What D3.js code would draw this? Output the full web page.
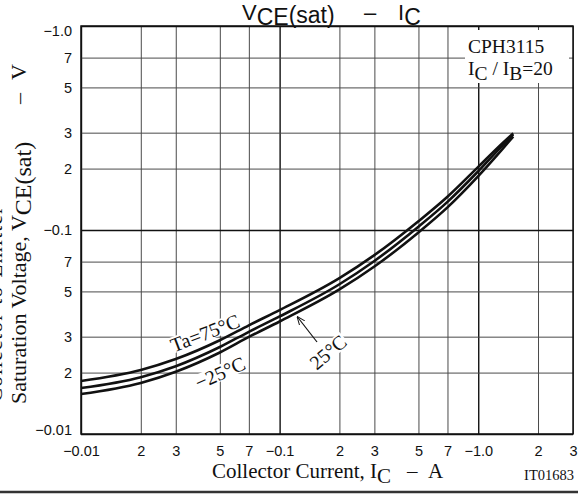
<!DOCTYPE html>
<html>
<head>
<meta charset="utf-8">
<script src="https://cdn.jsdelivr.net/npm/d3@7"></script>
<style>
  body { margin: 0; background: #fff; }
  svg { display: block; }
</style>
</head>
<body>
<script>
// VCE(sat) - IC chart, CPH3115

const currents = [0.01, 0.02, 0.03, 0.05, 0.07, 0.1, 0.2, 0.3, 0.5, 0.7, 1.0, 1.3, 1.5];
const vTa75 = [0.0182, 0.0206, 0.0233, 0.0288, 0.0341, 0.0405, 0.0581, 0.0753, 0.1104, 0.1456, 0.2040, 0.2620, 0.2980];
const vTa25 = [0.0168, 0.0190, 0.0215, 0.0267, 0.0317, 0.0377, 0.0542, 0.0705, 0.1038, 0.1374, 0.1941, 0.2547, 0.2938];
const vTaM25 = [0.0157, 0.0178, 0.0202, 0.0251, 0.0299, 0.0356, 0.0511, 0.0662, 0.0973, 0.1291, 0.1837, 0.2443, 0.2871];

const xTicks = [0.01, 0.02, 0.03, 0.05, 0.07, 0.1, 0.2, 0.3, 0.5, 0.7, 1, 2, 3];
const xTickLabels = ["\u22120.01", "2", "3", "5", "7", "\u22120.1", "2", "3", "5", "7", "\u22121.0", "2", "3"];
const yTicks = [1, 0.7, 0.5, 0.3, 0.2, 0.1, 0.07, 0.05, 0.03, 0.02, 0.01];
const yTickLabels = ["\u22121.0", "7", "5", "3", "2", "\u22120.1", "7", "5", "3", "2", "\u22120.01"];
const decades = [0.01, 0.1, 1];

const W = 578, H = 495;
const pL = 81, pR = 573, pT = 26, pB = 434;

const svg = d3.select("body").append("svg")
  .attr("width", W)
  .attr("height", H);

const x = d3.scaleLog().domain([0.01, 3]).range([pL, pR]);
const y = d3.scaleLog().domain([0.01, 1]).range([pB, pT]);

// Grid lines via axes
const gx = svg.append("g")
  .attr("transform", `translate(0,${pB})`)
  .call(d3.axisBottom(x).tickValues(xTicks).tickSize(-(pB - pT)).tickPadding(8)
    .tickFormat((d, i) => xTickLabels[i]));

const gy = svg.append("g")
  .attr("transform", `translate(${pL},0)`)
  .call(d3.axisLeft(y).tickValues(yTicks).tickSize(-(pR - pL)).tickPadding(9)
    .tickFormat((d, i) => yTickLabels[i]));

[gx, gy].forEach(g => {
  g.select(".domain").remove();
  g.selectAll(".tick line")
    .attr("stroke", d => decades.includes(d) ? "#111" : "#4a4a4a")
    .attr("stroke-width", d => decades.includes(d) ? 1.4 : 1);
  g.selectAll(".tick text")
    .attr("fill", "#111")
    .style("font-family", "'Liberation Sans', Arial, sans-serif")
    .style("font-size", "14.5px");
});
gx.selectAll(".tick text").attr("dy", "0.95em");
gy.selectAll(".tick text")
  .attr("dy", (d, i) => i === 0 ? "0.62em" : i === yTicks.length - 1 ? "0.05em" : "0.34em");

// Plot frame
svg.append("rect")
  .attr("x", pL).attr("y", pT)
  .attr("width", pR - pL).attr("height", pB - pT)
  .attr("fill", "none")
  .attr("stroke", "#111")
  .attr("stroke-width", 1.5);

// Legend box (knocks out grid)
svg.append("rect")
  .attr("x", 465).attr("y", 30).attr("width", 104).attr("height", 53)
  .attr("fill", "#fff");

const serif = "'Liberation Serif', 'Times New Roman', serif";
const sans = "'Liberation Sans', Arial, sans-serif";

svg.append("text")
  .attr("x", 468).attr("y", 53)
  .style("font-family", serif).style("font-size", "19.5px")
  .attr("fill", "#111")
  .text("CPH3115");

const leg2 = svg.append("text")
  .attr("x", 468).attr("y", 75)
  .style("font-family", serif).style("font-size", "19.5px")
  .attr("fill", "#111");
leg2.append("tspan").text("I");
leg2.append("tspan").attr("dy", 5).text("C");
leg2.append("tspan").attr("dy", -5).text(" / I");
leg2.append("tspan").attr("dy", 5).text("B");
leg2.append("tspan").attr("dy", -5).text("=20");

// Curve labels with white backgrounds
const labels = [
  { t: "Ta=75\u00B0C", x: 205, y: 333, a: -21 },
  { t: "\u221225\u00B0C", x: 220, y: 373, a: -24 },
  { t: "25\u00B0C", x: 328, y: 352, a: -40 }
];
labels.forEach(l => {
  const g = svg.append("g").attr("transform", `translate(${l.x},${l.y}) rotate(${l.a})`);
  const txt = g.append("text")
    .attr("text-anchor", "middle")
    .attr("dy", "0.35em")
    .style("font-family", serif).style("font-size", "20px")
    .attr("fill", "#111")
    .text(l.t);
  const bb = txt.node().getBBox();
  g.insert("rect", "text")
    .attr("x", bb.x - 1).attr("y", bb.y + 3)
    .attr("width", bb.width + 2).attr("height", bb.height - 6)
    .attr("fill", "#fff");
});

// Arrow to 25°C curve
svg.append("defs").append("marker")
  .attr("id", "arr")
  .attr("viewBox", "0 0 10 10")
  .attr("refX", 9).attr("refY", 5)
  .attr("markerWidth", 7).attr("markerHeight", 7)
  .attr("orient", "auto")
  .append("path")
  .attr("d", "M0,1 L10,5 L0,9")
  .attr("fill", "none")
  .attr("stroke", "#111")
  .attr("stroke-width", 1.2);

svg.append("line")
  .attr("x1", 317).attr("y1", 342)
  .attr("x2", 297.5).attr("y2", 317)
  .attr("stroke", "#111")
  .attr("stroke-width", 1.2)
  .attr("marker-end", "url(#arr)");

// Curves
const line = d3.line()
  .x((d, i) => x(currents[i]))
  .y(d => y(d))
  .curve(d3.curveMonotoneX);

[vTa75, vTa25, vTaM25].forEach(series => {
  svg.append("path")
    .datum(series)
    .attr("d", line)
    .attr("fill", "none")
    .attr("stroke", "#111")
    .attr("stroke-width", 2.6);
});

// Title
const title = svg.append("text")
  .attr("y", 20)
  .style("font-family", sans)
  .style("font-size", "22px")
  .attr("fill", "#111");
title.append("tspan").attr("x", 242).text("V");
title.append("tspan").attr("dy", 5).style("font-size", "23px").text("CE");
title.append("tspan").attr("dy", -2).style("font-size", "23px").text("(sat)");
title.append("tspan").attr("x", 364).attr("dy", -3).text("\u2013");
title.append("tspan").attr("x", 398).text("I");
title.append("tspan").attr("dy", 5).style("font-size", "23px").text("C");

// X axis title
const xt = svg.append("text")
  .attr("y", 478)
  .style("font-family", serif).style("font-size", "21px")
  .attr("fill", "#111");
xt.append("tspan").attr("x", 212).text("Collector Current, I");
xt.append("tspan").attr("dy", 5).text("C");
xt.append("tspan").attr("x", 407).attr("dy", -5).text("\u2013");
xt.append("tspan").attr("x", 428).text("A");

svg.append("text")
  .attr("x", 574).attr("y", 480)
  .attr("text-anchor", "end")
  .style("font-family", serif).style("font-size", "14.5px")
  .attr("fill", "#111")
  .text("IT01683");

// Y axis title (two lines, the first is cut at the edge)
svg.append("text")
  .attr("transform", "translate(2,402) rotate(-90)")
  .attr("textLength", 195)
  .style("font-family", serif).style("font-size", "21px")
  .attr("fill", "#111")
  .text("Collector-to-Emitter");

const yt = svg.append("text")
  .attr("transform", "translate(26,0) rotate(-90)")
  .style("font-family", serif).style("font-size", "22px")
  .attr("fill", "#111");
yt.append("tspan").attr("x", -404).text("Saturation Voltage, V");
yt.append("tspan").attr("dy", 5).style("font-size", "24px").text("CE(sat)");
yt.append("tspan").attr("x", -104).attr("dy", -5).text("\u2013");
yt.append("tspan").attr("x", -80).text("V");

// Bottom separator
svg.append("line")
  .attr("x1", 0).attr("x2", W)
  .attr("y1", 492).attr("y2", 492)
  .attr("stroke", "#333")
  .attr("stroke-width", 2.5);
</script>
</body>
</html>
